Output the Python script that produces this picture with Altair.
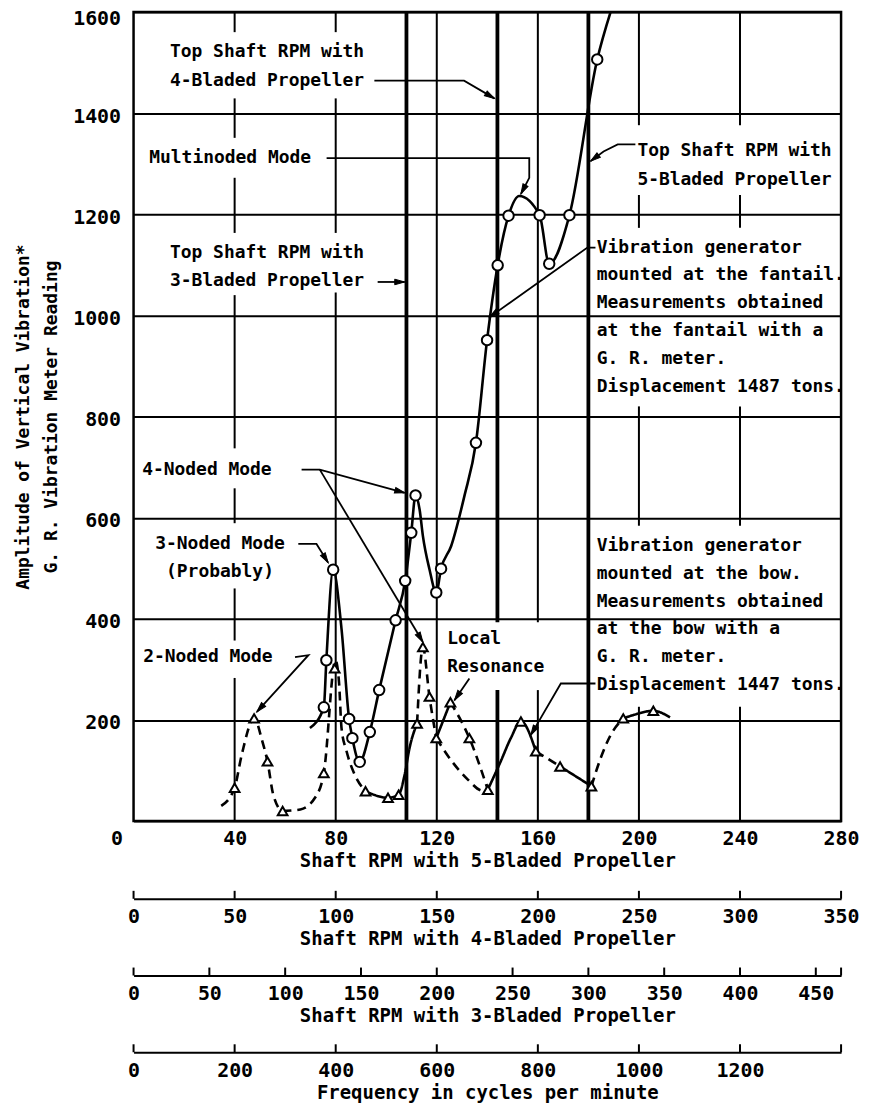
import math
import altair as alt
import pandas as pd

FONT = "DejaVu Sans Mono"
W, H = 710, 812
XMAX, YMAX = 280, 1600

# ---------------- data ----------------
# Fantail measurements (circles, solid curve); fan_mark = circle drawn
fan_x = [69.8, 75.3, 76.3, 79.0, 82.3, 85.3, 86.6, 89.5, 93.5, 97.2, 103.7, 107.5,
         109.9, 111.6, 113.2, 114.5, 117.1, 119.8, 121.7, 125.7, 130.9, 135.5, 139.9,
         144.1, 148.4, 152.6, 160.7, 164.5, 172.5, 183.5, 188.8]
fan_y = [184, 225, 318, 497, 380, 202, 164, 117, 176, 259, 397, 475,
         570, 644, 616, 564, 498, 452, 499, 544, 642, 748, 951,
         1099, 1197, 1236, 1198, 1102, 1198, 1506, 1600]
fan_mark = [0, 1, 1, 1, 0, 1, 1, 1, 1, 1, 1, 1,
            1, 1, 0, 0, 0, 1, 1, 0, 0, 1, 1,
            1, 1, 0, 1, 1, 1, 1, 0]

# Bow measurements (triangles, mostly dashed curve), drawn as segments
bow_seg = [1] * 17 + [2] * 6 + [3] * 4 + [4] * 2 + [5] * 3 + [6] * 5 + [7] * 5 + [8] * 2 + [9] * 2 + [10] * 4 + [11] * 4
bow_x = [34.7, 40.0, 42.8, 47.7, 51.0, 53.0, 55.3, 59.0, 66.0, 71.8, 75.3, 79.9, 81.3, 82.3, 84.3, 87.5, 91.8,
         91.8, 100.7, 104.9, 107.3, 109.2, 112.2,
         112.2, 114.5, 117.1, 119.8,
         119.8, 125.4,
         125.4, 132.9, 140.2,
         119.8, 126.0, 132.3, 138.2, 140.2,
         140.2, 145.3, 149.3, 153.3, 159.2,
         159.2, 168.8,
         168.8, 181.2,
         181.2, 184.9, 188.8, 193.8,
         193.8, 198.0, 205.7, 212.3]
bow_y = [30, 66, 131, 203, 157, 118, 52, 20, 23, 46, 95, 318, 275, 184, 138, 92, 59,
         59, 46, 52, 92, 144, 193,
         193, 344, 246, 164,
         164, 235,
         235, 164, 62,
         164, 118, 82, 60, 62,
         62, 118, 164, 197, 138,
         138, 108,
         108, 69,
         69, 125, 170, 203,
         203, 210, 218, 205]
seg_style = {1: "dashed", 2: "solid", 3: "dashed", 4: "solid", 5: "dashed", 6: "dashed",
             7: "solid", 8: "dashed", 9: "solid", 10: "dashed", 11: "solid"}

tri_x = [40.0, 47.7, 53.0, 59.0, 75.3, 79.6, 91.8, 100.7, 104.9, 112.2, 114.5, 117.1,
         119.8, 125.4, 132.9, 140.2, 153.3, 159.2, 168.8, 181.2, 193.8, 205.7]
tri_y = [66, 203, 118, 20, 95, 302, 59, 46, 52, 193, 344, 246,
         164, 235, 164, 62, 197, 138, 108, 69, 203, 218]

# vertical grid lines (interrupted where lettering sits)
vgrid_x = [40, 40, 40, 40, 40, 40, 40, 80, 80, 80, 120, 160, 160,
           200, 200, 200, 200, 240, 240, 240, 240]
vgrid_y1 = [1560, 1351, 1163, 737, 589, 357, 0, 1560, 1163, 0, 0, 393, 0,
            1376, 1173, 584, 0, 1376, 1173, 584, 0]
vgrid_y2 = [1600, 1429, 1272, 1040, 658, 460, 283, 1600, 1429, 1045, 1600, 1600, 259,
            1600, 1238, 820, 226, 1600, 1238, 820, 226]

# heavy lines: top shaft RPM for 3-, 4-, 5-bladed propellers
heavy_x = [108, 144, 144, 180]
heavy_y1 = [0, 393, 0, 0]
heavy_y2 = [1600, 1600, 259, 1600]

# leader lines of the annotations (last point = arrow tip)
lead_id = ["a"] * 3 + ["b"] * 4 + ["c"] * 4 + ["d"] * 2 + ["e"] * 3 + ["f"] * 3 + ["g"] * 2 + ["h"] * 3 + ["i"] * 3 + ["j"] * 2 + ["k"] * 3
lead_x = [95.3, 130.8, 142.8,
          76.4, 156.6, 156.6, 153.3,
          198.6, 191.6, 186.0, 180.9,
          96.6, 107.3,
          182.8, 179.6, 140.8,
          66.5, 73.7, 107.3,
          73.7, 114.5,
          65.2, 72.4, 77.0,
          63.9, 69.2, 48.8,
          132.9, 127.0,
          182.8, 169.1, 157.2]
lead_y = [1464, 1464, 1429,
          1311, 1311, 1272, 1240,
          1338, 1338, 1324, 1305,
          1066, 1066,
          1134, 1134, 996,
          695, 695, 649,
          695, 354,
          548, 548, 511,
          324, 328, 216,
          282, 239,
          272, 272, 170]

note_text = ["Top Shaft RPM with", "4-Bladed Propeller", "Multinoded Mode",
             "Top Shaft RPM with", "5-Bladed Propeller",
             "Top Shaft RPM with", "3-Bladed Propeller",
             "Vibration generator", "mounted at the fantail.", "Measurements obtained",
             "at the fantail with a", "G. R. meter.", "Displacement 1487 tons.",
             "4-Noded Mode", "3-Noded Mode", "(Probably)", "2-Noded Mode",
             "Local", "Resonance",
             "Vibration generator", "mounted at the bow.", "Measurements obtained",
             "at the bow with a", "G. R. meter.", "Displacement 1447 tons."]
note_x = [14.4, 14.4, 6.2, 199.4, 199.4, 14.4, 14.4,
          183.3, 183.3, 183.3, 183.3, 183.3, 183.3,
          3.4, 34.2, 34.2, 3.8, 124.1, 124.1,
          183.3, 183.3, 183.3, 183.3, 183.3, 183.3]
note_y = [1521, 1464, 1311, 1325, 1268, 1124, 1067,
          1134, 1079, 1024, 969, 914, 859,
          695, 548, 493, 324, 359, 304,
          544, 489, 434, 379, 324, 269]
note_align = ["left"] * 14 + ["center", "center"] + ["left"] * 9

x_labels = [0, 40, 80, 120, 160, 200, 240, 280]
y_values = [0, 200, 400, 600, 800, 1000, 1200, 1400, 1600]

ax4_ticks = [0, 50, 100, 150, 200, 250, 300, 350]
ax4_labels = [0, 50, 100, 150, 200, 250, 300, 350]
ax3_ticks = [0, 50, 100, 150, 200, 250, 300, 350, 400, 450, 466.67]
ax3_labels = [0, 50, 100, 150, 200, 250, 300, 350, 400, 450]
fq_ticks = [0, 200, 400, 600, 800, 1000, 1200, 1400]
fq_labels = [0, 200, 400, 600, 800, 1000, 1200]

# ---------------- tables ----------------
fan = pd.DataFrame({"x": fan_x, "y": fan_y, "m": fan_mark})
bow = pd.DataFrame({"seg": bow_seg, "x": bow_x, "y": bow_y})
bow["style"] = bow["seg"].map(seg_style)
tri = pd.DataFrame({"x": tri_x, "y": tri_y})
vg = pd.DataFrame({"x": vgrid_x, "y": vgrid_y1, "y2": vgrid_y2})
hv = pd.DataFrame({"x": heavy_x, "y": heavy_y1, "y2": heavy_y2})
lead = pd.DataFrame({"id": lead_id, "x": lead_x, "y": lead_y})
lead["k"] = range(len(lead))
notes = pd.DataFrame({"t": note_text, "x": note_x, "y": note_y, "al": note_align})

heads = []
for lid, g in lead.groupby("id", sort=False):
    (x1, y1), (x2, y2) = g[["x", "y"]].values[-2], g[["x", "y"]].values[-1]
    dx = (x2 - x1) * W / XMAX
    dy = -(y2 - y1) * H / YMAX
    heads.append({"x": x2, "y": y2, "ang": math.degrees(math.atan2(dx, -dy)) % 360})
heads = pd.DataFrame(heads)

# ---------------- encodings ----------------
WT = "bold"
xs = alt.Scale(domain=[0, XMAX], nice=False, zero=False)
ys = alt.Scale(domain=[0, YMAX], nice=False, zero=False)
lab = dict(labelFont=FONT, labelFontSize=20, labelColor="black", labelFontWeight=WT,
           titleFont=FONT, titleFontSize=19, titleFontWeight=WT, titleColor="black")
xaxis = alt.Axis(values=x_labels, format="d", title="Shaft RPM with 5-Bladed Propeller",
                 grid=False, ticks=False, tickSize=0, domain=False, labelFlush=False,
                 labelOverlap=False, labelPadding=8, titlePadding=3,
                 labelOffset={"condition": {"test": "datum.value == 0", "value": -17}, "value": 0},
                 **lab)
yaxis = alt.Axis(values=y_values, format="d",
                 title=["Amplitude of Vertical Vibration*", "G. R. Vibration Meter Reading"],
                 grid=True, gridColor="black", gridWidth=2, ticks=False, tickSize=0,
                 domain=False, labelPadding=13, labelOverlap=False,
                 labelOffset={"condition": {"test": "datum.value == 1600", "value": 7}, "value": 3},
                 labelExpr="datum.value == 0 ? '' : datum.label",
                 titlePadding=12, titleLineHeight=28,
                 labelFont=FONT, labelFontSize=20, labelColor="black", labelFontWeight=WT,
                 titleFont=FONT, titleFontSize=18, titleFontWeight=WT, titleColor="black")


def X(f="x"):
    return alt.X(f + ":Q", scale=xs, axis=xaxis)


def Y(f="y"):
    return alt.Y(f + ":Q", scale=ys, axis=yaxis)


grid = alt.Chart(vg).mark_rule(color="black", strokeWidth=2).encode(x=X(), y=Y(), y2="y2:Q")
heavy = alt.Chart(hv).mark_rule(color="black", strokeWidth=3.8).encode(x=X(), y=Y(), y2="y2:Q")
leaders = alt.Chart(lead).mark_line(color="black", strokeWidth=1.8).encode(
    x=X(), y=Y(), detail="id:N", order="k:Q")
bow_line = alt.Chart(bow).mark_line(color="black", strokeWidth=2.6, interpolate="monotone").encode(
    x=X(), y=Y(), detail="seg:N",
    strokeDash=alt.StrokeDash("style:N", scale=alt.Scale(domain=["solid", "dashed"], range=[[1, 0], [9, 6]]), legend=None))
fan_line = alt.Chart(fan).mark_line(color="black", strokeWidth=2.6, interpolate="monotone").encode(
    x=X(), y=Y())
fan_pts = alt.Chart(fan).transform_filter("datum.m == 1").mark_point(
    shape="circle", filled=True, fill="white", stroke="black", strokeWidth=2, size=110, opacity=1).encode(x=X(), y=Y())
tri_pts = alt.Chart(tri).mark_point(
    shape="triangle-up", filled=True, fill="white", stroke="black", strokeWidth=2, size=95, opacity=1).encode(x=X(), y=Y())
arrows = alt.Chart(heads).mark_point(
    shape="M0,0L0.28,1L-0.28,1Z", filled=True, fill="black", stroke="black", strokeWidth=1, size=400, opacity=1).encode(
    x=X(), y=Y(), angle=alt.Angle("ang:Q", scale=None))
txt_l = alt.Chart(notes).transform_filter("datum.al == 'left'").mark_text(
    font=FONT, fontSize=18, fontWeight=WT, align="left", baseline="middle", color="black").encode(x=X(), y=Y(), text="t:N")
txt_c = alt.Chart(notes).transform_filter("datum.al == 'center'").mark_text(
    font=FONT, fontSize=18, fontWeight=WT, align="center", baseline="middle", color="black").encode(x=X(), y=Y(), text="t:N")

main = alt.layer(grid, heavy, leaders, bow_line, fan_line, fan_pts, tri_pts, arrows, txt_l, txt_c).properties(
    width=W, height=H, view=alt.ViewBackground(stroke="black", strokeWidth=2.5))


def sub_axis(ticks, labels, dmax, title):
    df = pd.DataFrame({"v": ticks})
    return alt.Chart(df).mark_rule(color="black", strokeWidth=2).encode(
        x=alt.X("v:Q", scale=alt.Scale(domain=[0, dmax], nice=False, zero=False),
                axis=alt.Axis(values=labels, format="d", title=title, ticks=False, tickSize=0, grid=False,
                              domain=True, domainColor="black", domainWidth=2, labelFlush=False,
                              labelOverlap=False, labelPadding=8, titlePadding=3, **lab)),
        y=alt.value(0), y2=alt.value(8)
    ).properties(width=W, height=8, view=alt.ViewBackground(stroke="transparent"))


a4 = sub_axis(ax4_ticks, ax4_labels, XMAX * 5 / 4, "Shaft RPM with 4-Bladed Propeller")
a3 = sub_axis(ax3_ticks, ax3_labels, XMAX * 5 / 3, "Shaft RPM with 3-Bladed Propeller")
af = sub_axis(fq_ticks, fq_labels, XMAX * 5, "Frequency in cycles per minute")

chart = alt.vconcat(main, a4, a3, af, spacing=16).properties(
    padding={"left": 5, "top": -5, "right": 0, "bottom": 0}, background="white")

chart.save("out.html", embed_options={"renderer": "svg", "actions": False})
